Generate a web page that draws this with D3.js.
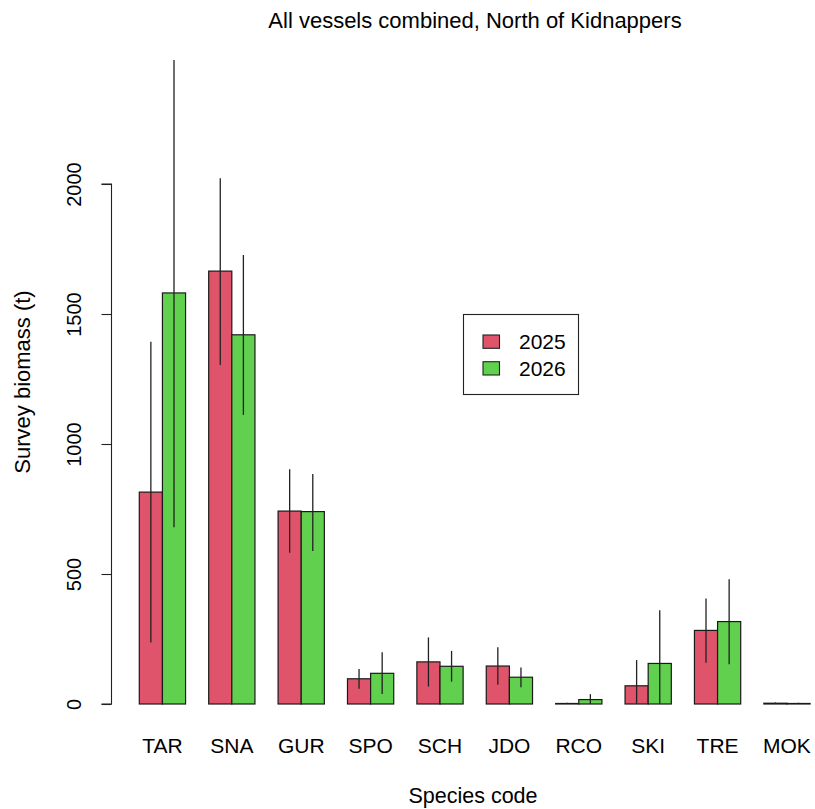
<!DOCTYPE html>
<html>
<head>
<meta charset="utf-8">
<script src="https://cdn.jsdelivr.net/npm/d3@7"></script>
<style>
  body { margin: 0; background: #fff; }
  svg text { font-family: "Liberation Sans", Arial, sans-serif; fill: #000; }
</style>
</head>
<body>
<svg id="chart" width="815" height="809"></svg>
<script>
// Survey biomass by species, two survey years
const species = ["TAR", "SNA", "GUR", "SPO", "SCH", "JDO", "RCO", "SKI", "TRE", "MOK"];
const years = ["2025", "2026"];
const biomass2025 = [815, 1665, 742, 97, 162, 146, 2, 70, 283, 3];
const biomass2026 = [1581, 1420, 740, 118, 145, 103, 17, 156, 317, 2];
const lower2025 = [237, 1304, 582, 59, 67, 74, 0, 0, 159, 0];
const upper2025 = [1393, 2022, 903, 135, 256, 218, 5, 169, 406, 6];
const lower2026 = [680, 1112, 588, 38, 86, 64, 0, 0, 153, 0];
const upper2026 = [2477, 1727, 885, 199, 204, 140, 38, 361, 480, 5];
const yTicks = [0, 500, 1000, 1500, 2000];
const colors = ["#DF536B", "#61D04F"];

const svg = d3.select("#chart");

// bar units: each group has 2 bars of width 1 plus 1 unit gap before it
const x = d3.scaleLinear().domain([1, 30]).range([139.3, 810.1]);
const y = d3.scaleLinear().domain([0, 2000]).range([704, 184]);

const values = [biomass2025, biomass2026];
const lows = [lower2025, lower2026];
const highs = [upper2025, upper2026];

const bars = [];
species.forEach((s, i) => {
  years.forEach((yr, j) => {
    const left = 1 + 3 * i + j;
    bars.push({ s, j, left, v: values[j][i], lo: lows[j][i], hi: highs[j][i] });
  });
});

svg.append("g").selectAll("rect").data(bars).join("rect")
  .attr("x", d => x(d.left))
  .attr("width", d => x(d.left + 1) - x(d.left))
  .attr("y", d => y(d.v))
  .attr("height", d => y(0) - y(d.v))
  .attr("fill", d => colors[d.j])
  .attr("stroke", "#1a1a1a")
  .attr("stroke-width", 1.2);

// interval lines through bar centres
svg.append("g").selectAll("line").data(bars).join("line")
  .attr("x1", d => x(d.left + 0.5))
  .attr("x2", d => x(d.left + 0.5))
  .attr("y1", d => y(d.lo))
  .attr("y2", d => y(d.hi))
  .attr("stroke", "#222")
  .attr("stroke-width", 1.3);

// y axis
const yAxis = d3.axisLeft(y).tickValues(yTicks).tickSize(10).tickPadding(0).tickFormat(d3.format("d"));
const gy = svg.append("g").attr("transform", "translate(111.5,0)").call(yAxis);
gy.select(".domain").attr("stroke", "#222").attr("stroke-width", 1.1).attr("d", `M-10,${y(0)}H0V${y(2000)}H-10`);
gy.selectAll(".tick line").attr("stroke", "#222").attr("stroke-width", 1.1);
gy.selectAll(".tick text")
  .attr("x", 0).attr("y", 0)
  .attr("transform", "translate(-38,0) rotate(-90)")
  .attr("text-anchor", "middle")
  .attr("dy", "0.35em")
  .style("font-size", "20px")
  .style("font-family", "Liberation Sans, Arial, sans-serif")
  .attr("fill", "#000");

// category labels under each pair of bars
svg.append("g").selectAll("text").data(species).join("text")
  .attr("x", (d, i) => x(2 + 3 * i))
  .attr("y", 752.5)
  .attr("text-anchor", "middle")
  .style("font-size", "21px")
  .text(d => d);

// title and axis titles
svg.append("text").attr("x", 475).attr("y", 27.5).attr("text-anchor", "middle")
  .style("font-size", "22px").text("All vessels combined, North of Kidnappers");
svg.append("text").attr("x", 473).attr("y", 803).attr("text-anchor", "middle")
  .style("font-size", "21.5px").text("Species code");
svg.append("text").attr("transform", "translate(29.5,382) rotate(-90)").attr("text-anchor", "middle")
  .style("font-size", "22px").text("Survey biomass (t)");

// legend
const lg = svg.append("g");
lg.append("rect").attr("x", 463.5).attr("y", 314.5).attr("width", 115).attr("height", 80)
  .attr("fill", "#fff").attr("stroke", "#222").attr("stroke-width", 1.1);
years.forEach((yr, j) => {
  lg.append("rect").attr("x", 483).attr("y", 335 + j * 26.7).attr("width", 16.5).attr("height", 13.3)
    .attr("fill", colors[j]).attr("stroke", "#222").attr("stroke-width", 1.1);
  lg.append("text").attr("x", 519).attr("y", 341.7 + j * 26.7).attr("dy", "0.35em")
    .style("font-size", "21px").text(yr);
});
</script>
</body>
</html>
